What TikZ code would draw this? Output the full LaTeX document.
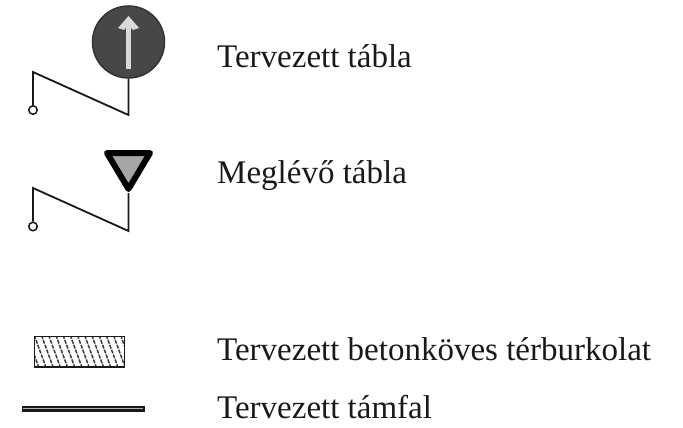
\documentclass[tikz,border=0pt]{standalone}
\usepackage{fontspec}
\setmainfont{Liberation Serif}
\definecolor{inkc}{gray}{0.1}
\tikzset{
  x=1pt,y=-1pt,
  label text/.style={anchor=base west,inner sep=0pt,font=\fontsize{33}{38}\selectfont,text=inkc},
  pole/.style={draw=inkc,line width=1.8pt,line join=miter},
  foot/.style={circle,draw=inkc,line width=1.5pt,fill=white,minimum size=8.5pt,inner sep=0pt},
}
\begin{document}
\begin{tikzpicture}
\useasboundingbox (0,0) rectangle (683,428);
% Planned sign
\node[circle,draw=black!80,line width=1.5pt,fill=black!72,minimum size=72pt,inner sep=0pt] (disc) at (128.5,42) {};
\draw[white!85!black,line width=4.5pt] (128.5,69) -- (128.5,24);
\fill[white!85!black] (128.5,16) -- (139,28) -- (133,30) -- (128.5,25) -- (124,30) -- (118,28) -- cycle;
\coordinate (a1) at (128.5,115);
\coordinate (a2) at (33,72);
\node[foot] (afoot) at (33,110) {};
\draw[pole] (disc.south) -- (a1) -- (a2) -- (afoot.north);
% Existing sign
\coordinate (t1) at (107,153);
\coordinate (t2) at (150,153);
\coordinate (t3) at (128.5,189);
\draw[line width=6pt,line join=round,fill=black!35] (t1) -- (t2) -- (t3) -- cycle;
\coordinate (tb) at (128.5,193);
\coordinate (b1) at (128.5,231);
\coordinate (b2) at (33,188);
\node[foot] (bfoot) at (33,226.5) {};
\draw[pole] (tb) -- (b1) -- (b2) -- (bfoot.north);
% Paving
\begin{scope}
\clip (34.5,336.5) rectangle (124.5,367);
\foreach \i in {0,...,13}{
  \draw[inkc!85!white,line width=1.5pt,dash pattern=on 4pt off 1.2pt] ({27+\i*7.2},335) -- ({39+\i*7.2},368);
}
\end{scope}
\draw[inkc,line width=1.8pt] (34.5,336.5) rectangle (124.5,367);
% Wall
\fill[inkc] (21.5,405.5) rectangle (144.5,411.5);
\draw[white!70!black,line width=1.3pt] (23,408.5) -- (143,408.5);
% Labels
\node[label text] (l1) at (217,68) {Tervezett tábla};
\node[label text] (l2) at (217,183) {Meglévő tábla};
\node[label text] (l3) at (217,360) {Tervezett betonköves térburkolat};
\node[label text] (l4) at (217,418) {Tervezett támfal};
\end{tikzpicture}
\end{document}
